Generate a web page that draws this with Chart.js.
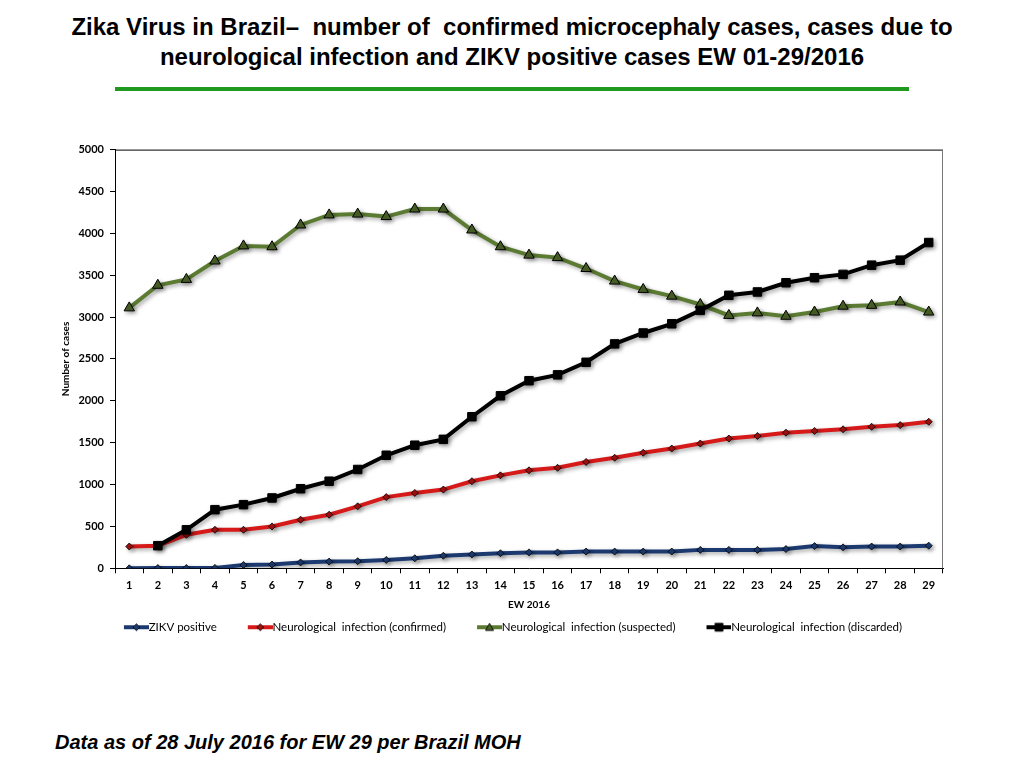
<!DOCTYPE html>
<html>
<head>
<meta charset="utf-8">
<script src="https://cdn.jsdelivr.net/npm/chart.js@4.4.1/dist/chart.umd.min.js"></script>
<style>
  body { margin: 0; background: #fff; width: 1024px; height: 768px; position: relative; overflow: hidden; }
  .title { position: absolute; left: 0; top: 12px; width: 1024px; text-align: center;
           font-family: "Liberation Sans", Arial, sans-serif; font-weight: bold; font-size: 24px;
           line-height: 30px; white-space: pre; color: #000; }
  .rule { position: absolute; left: 115px; top: 87px; width: 794px; height: 4px; background: #1f9a1f; }
  .note { position: absolute; left: 55px; top: 731px; font-family: "Liberation Sans", Arial, sans-serif;
          font-weight: bold; font-style: italic; font-size: 20px; color: #000; }
  #wrap { position: absolute; left: 50px; top: 137px; width: 910px; height: 506px; }
</style>
</head>
<body>
<div class="title">Zika Virus in Brazil–  number of  confirmed microcephaly cases, cases due to
neurological infection and ZIKV positive cases EW 01-29/2016</div>
<div class="rule"></div>
<div id="wrap"><canvas id="chart"></canvas></div>
<div class="note">Data as of 28 July 2016 for EW 29 per Brazil MOH</div>

<script>
// semanas epidemiologicas 1..29
const weeks = [];
for (let i = 1; i <= 29; i++) weeks.push(String(i));

const zikv_positive = [0, 3, 3, 5, 40, 45, 70, 80, 85, 100, 120, 150, 165, 180, 190,
                       190, 200, 200, 200, 200, 220, 220, 220, 230, 265, 250, 260, 260, 270];
const neuro_confirmed = [260, 270, 400, 460, 460, 500, 580, 640, 740, 850, 900, 940, 1040, 1110, 1170,
                         1200, 1270, 1320, 1380, 1430, 1490, 1550, 1580, 1620, 1640, 1660, 1690, 1710, 1750];
const neuro_suspected = [3110, 3380, 3450, 3670, 3850, 3840, 4100, 4220, 4230, 4200, 4290, 4290, 4040, 3840, 3740,
                         3710, 3580, 3430, 3330, 3250, 3150, 3020, 3050, 3010, 3060, 3130, 3140, 3180, 3060];
const neuro_discarded = [null, 270, 460, 700, 760, 840, 950, 1040, 1180, 1350, 1470, 1540, 1810, 2060, 2240,
                         2310, 2460, 2680, 2810, 2920, 3080, 3260, 3300, 3410, 3470, 3510, 3620, 3680, 3890];

const series_names = ["ZIKV positive", "Neurological  infection (confirmed)",
                      "Neurological  infection (suspected)", "Neurological  infection (discarded)"];

const legend_font_size = 11.5;

// legend icon: transparent lead (= gap after previous item) then a 25px line with marker
// box width 42 + font/2 -> text starts right after the line; image is centred at 21
function legend_icon(color, fill, shape, size){
    const text_x = 42 + legend_font_size / 2;
    const c = document.createElement("canvas");
    c.width = Math.round(2 * (text_x - 21)); c.height = 12;
    const g = c.getContext("2d");
    const x1 = c.width, x0 = x1 - 25, mx = x1 - 12.5, my = 6;
    g.strokeStyle = color; g.lineWidth = 4;
    g.beginPath(); g.moveTo(x0, my); g.lineTo(x1, my); g.stroke();
    g.fillStyle = fill; g.strokeStyle = "#000"; g.lineWidth = 0.8;
    g.beginPath();
    if (shape == "diamond"){
        g.moveTo(mx, my - size); g.lineTo(mx + size, my); g.lineTo(mx, my + size); g.lineTo(mx - size, my);
    } else if (shape == "triangle"){
        g.moveTo(mx, my - size); g.lineTo(mx + size, my + size * 0.8); g.lineTo(mx - size, my + size * 0.8);
    } else {
        g.rect(mx - size, my - size, size * 2, size * 2);
    }
    g.closePath(); g.fill(); g.stroke();
    return c;
}

const icons = [
    legend_icon("#1c3a70", "#1c3a70", "diamond", 3.5),
    legend_icon("#d61a1a", "#a01010", "diamond", 3.5),
    legend_icon("#5b7a32", "#4a6126", "triangle", 4),
    legend_icon("#000000", "#000000", "square", 4)
];

const shadow_plugin = {
    id: "shadow",
    beforeDatasetDraw(chart){
        const ctx = chart.ctx;
        ctx.save();
        ctx.shadowColor = "rgba(0,0,0,0.35)";
        ctx.shadowBlur = 4;
        ctx.shadowOffsetX = 2;
        ctx.shadowOffsetY = 2;
    },
    afterDatasetDraw(chart){
        chart.ctx.restore();
    }
};

const frame_plugin = {
    id: "frame",
    afterDraw(chart){
        const a = chart.chartArea, ctx = chart.ctx;
        ctx.save();
        ctx.strokeStyle = "#000"; ctx.lineWidth = 1;
        ctx.beginPath(); ctx.moveTo(a.left, a.top + 0.5); ctx.lineTo(a.right, a.top + 0.5); ctx.stroke();
        ctx.strokeStyle = "#777";
        ctx.beginPath(); ctx.moveTo(a.right - 0.5, a.top); ctx.lineTo(a.right - 0.5, a.bottom); ctx.stroke();
        ctx.restore();
    }
};

const tick_font = { family: "Lato", size: 11, weight: "bold" };

new Chart(document.getElementById("chart"), {
    type: "line",
    data: {
        labels: weeks,
        datasets: [
            { label: series_names[0], data: zikv_positive, borderColor: "#1c3a70", backgroundColor: "#1c3a70",
              borderWidth: 4, pointStyle: "rectRot", pointRadius: 3.5, pointBorderColor: "#000", pointBorderWidth: 0.8, order: 1 },
            { label: series_names[1], data: neuro_confirmed, borderColor: "#d61a1a", backgroundColor: "#a01010",
              borderWidth: 4, pointStyle: "rectRot", pointRadius: 3.5, pointBorderColor: "#000", pointBorderWidth: 0.8, order: 2 },
            { label: series_names[2], data: neuro_suspected, borderColor: "#5b7a32", backgroundColor: "#4a6126",
              borderWidth: 4, pointStyle: "triangle", pointRadius: 6, pointBorderColor: "#000", pointBorderWidth: 1, order: 3 },
            { label: series_names[3], data: neuro_discarded, borderColor: "#000", backgroundColor: "#000",
              borderWidth: 4, pointStyle: "rect", pointRadius: 6, pointBorderColor: "#000", pointBorderWidth: 1, order: 0 }
        ]
    },
    options: {
        responsive: true,
        maintainAspectRatio: false,
        animation: false,
        layout: { padding: { top: 9, right: 17, left: 10, bottom: 0 } },
        plugins: {
            legend: {
                position: "bottom",
                labels: {
                    usePointStyle: true,
                    pointStyleWidth: 42,
                    boxHeight: 11,
                    padding: 8,
                    color: "#000",
                    font: { family: "Lato", size: legend_font_size },
                    generateLabels(chart){
                        return chart.data.datasets.map((d, i) => ({
                            text: d.label, pointStyle: icons[i], fillStyle: d.borderColor,
                            strokeStyle: d.borderColor, lineWidth: 0, datasetIndex: i, hidden: false
                        }));
                    }
                }
            },
            tooltip: { enabled: false }
        },
        scales: {
            x: {
                offset: true,
                grid: { display: true, offset: true, drawOnChartArea: false, drawTicks: true, tickLength: 5, color: "#000" },
                border: { color: "#000", width: 1 },
                ticks: { color: "#000", font: tick_font, padding: 6, maxRotation: 0, autoSkip: false },
                title: { display: true, text: "EW 2016", color: "#000", font: { family: "Lato", size: 10, weight: "bold" }, padding: { top: 0, bottom: 3 } }
            },
            y: {
                min: 0, max: 5000,
                afterFit(scale){ scale.width = 55; },
                grid: { display: true, drawOnChartArea: false, drawTicks: true, tickLength: 5, color: "#000" },
                border: { color: "#000", width: 1 },
                ticks: { stepSize: 500, color: "#000", font: tick_font, padding: 6, callback: (v) => String(v) },
                title: { display: true, text: "Number of cases", color: "#000", font: { family: "Lato", size: 10, weight: "bold" }, padding: 0 }
            }
        }
    },
    plugins: [shadow_plugin, frame_plugin]
});
</script>
</body>
</html>
